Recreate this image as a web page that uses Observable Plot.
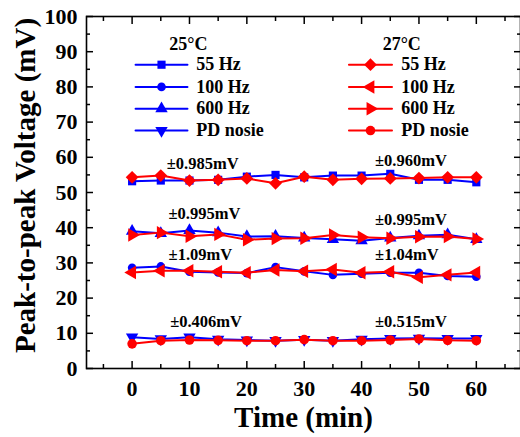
<!DOCTYPE html>
<html>
<head>
<meta charset="utf-8">
<script src="https://cdn.jsdelivr.net/npm/d3@7"></script>
<script src="https://cdn.jsdelivr.net/npm/@observablehq/plot@0.6"></script>
<style>
  html, body { margin: 0; padding: 0; background: #fff; }
  #chart svg { display: block; }
  #chart svg, #chart svg text { font-family: "Liberation Serif", "Times New Roman", serif !important; font-weight: bold; }
</style>
</head>
<body>
<div id="chart"></div>
<script>
// ---- data ----
const times = [0, 5, 10, 15, 20, 25, 30, 35, 40, 45, 50, 55, 60];

const blue55  = [53.2, 53.4, 53.4, 53.6, 54.5, 55.0, 54.3, 54.8, 54.8, 55.3, 53.6, 53.6, 52.9];
const blue100 = [28.6, 29.0, 27.5, 27.3, 27.1, 28.8, 27.6, 26.6, 26.9, 27.2, 27.2, 26.3, 26.1];
const blue600 = [39.0, 38.4, 39.2, 38.6, 37.5, 37.6, 37.1, 36.7, 36.3, 37.1, 37.7, 38.0, 36.7];
const bluePD  = [8.9, 8.4, 8.9, 8.3, 8.1, 7.9, 8.2, 7.9, 8.3, 8.5, 8.6, 8.5, 8.5];

const red55   = [54.3, 54.8, 53.4, 53.6, 54.0, 52.6, 54.5, 53.6, 53.9, 54.0, 54.1, 54.3, 54.3];
const red100  = [27.3, 27.8, 27.8, 27.5, 27.2, 28.0, 27.6, 28.1, 27.2, 27.5, 25.9, 26.6, 27.3];
const red600  = [37.9, 38.6, 37.6, 38.1, 36.6, 36.9, 37.0, 37.9, 37.3, 37.0, 37.4, 37.5, 36.8];
const redPD   = [7.0, 7.9, 8.1, 8.0, 7.9, 7.9, 8.2, 7.9, 7.9, 8.1, 8.4, 8.0, 7.9];

const seriesLabels = ["55 Hz", "100 Hz", "600 Hz", "PD nosie"];
const groupTitles = ["25°C", "27°C"];

const annotations = [
  {text: "±0.985mV", x: 12.3, y: 58.3},
  {text: "±0.960mV", x: 48.6, y: 59.0},
  {text: "±0.995mV", x: 12.6, y: 44.1},
  {text: "±0.995mV", x: 48.6, y: 42.3},
  {text: "±1.09mV",  x: 11.9, y: 32.4},
  {text: "±1.04mV",  x: 47.9, y: 32.4},
  {text: "±0.406mV", x: 12.9, y: 13.2},
  {text: "±0.515mV", x: 48.6, y: 13.2}
];

const xTicks = [0, 10, 20, 30, 40, 50, 60];
const xMinor = [-5, 5, 15, 25, 35, 45, 55, 65];
const yTicks = [0, 10, 20, 30, 40, 50, 60, 70, 80, 90, 100];
const yMinor = [5, 15, 25, 35, 45, 55, 65, 75, 85, 95];

// ---- custom symbols ----
const sqrt3 = Math.sqrt(3);
function poly(fn) {
  return {draw(ctx, size) {
    const y = -Math.sqrt(size / (sqrt3 * 3));
    const pts = fn(y);
    ctx.moveTo(pts[0][0], pts[0][1]);
    for (let i = 1; i < pts.length; i++) ctx.lineTo(pts[i][0], pts[i][1]);
    ctx.closePath();
  }};
}
const triUp = poly(y => [[0, 2 * y], [-sqrt3 * y, -y], [sqrt3 * y, -y]]);
const triDown = poly(y => [[0, -2 * y], [-sqrt3 * y, y], [sqrt3 * y, y]]);
const triLeft = poly(y => [[2 * y, 0], [-y, -sqrt3 * y], [-y, sqrt3 * y]]);
const triRight = poly(y => [[-2 * y, 0], [y, -sqrt3 * y], [y, sqrt3 * y]]);
const diamond = {draw(ctx, size) {
  const r = Math.sqrt(size) * 0.72;
  ctx.moveTo(0, -r); ctx.lineTo(r, 0); ctx.lineTo(0, r); ctx.lineTo(-r, 0); ctx.closePath();
}};

const BLUE = "#0000ff", RED = "#ff0000";
const groups = [
  {title: groupTitles[0], color: BLUE, series: [
    {values: blue55, symbol: "square", r: 4.6},
    {values: blue100, symbol: "circle", r: 4.3},
    {values: blue600, symbol: triUp, r: 4.6},
    {values: bluePD, symbol: triDown, r: 4.6}
  ]},
  {title: groupTitles[1], color: RED, series: [
    {values: red55, symbol: diamond, r: 5},
    {values: red100, symbol: triLeft, r: 5},
    {values: red600, symbol: triRight, r: 5},
    {values: redPD, symbol: "circle", r: 4.8}
  ]}
];

// ---- legend layout (data units of the chart) ----
const legendX = [{x0: 0.6, x1: 9.65, tx: 11.2, title: 9.8}, {x0: 37.8, x1: 45.3, tx: 46.9, title: 47.0}];
const legendRowY = [86.3, 80.0, 73.8, 67.6];
const legendTitleY = 92.2;

const font = "Liberation Serif";
const marks = [];

groups.forEach((g, gi) => {
  g.series.forEach((s, si) => {
    const rows = times.map((t, i) => ({t, v: s.values[i]}));
    marks.push(Plot.line(rows, {x: "t", y: "v", stroke: g.color, strokeWidth: 2}));
    marks.push(Plot.dot(rows, {x: "t", y: "v", symbol: s.symbol, r: s.r, fill: g.color, stroke: "none"}));
    // legend entry
    const L = legendX[gi], ly = legendRowY[si];
    marks.push(Plot.line([[L.x0, ly], [L.x1, ly]], {stroke: g.color, strokeWidth: 2}));
    marks.push(Plot.dot([[(L.x0 + L.x1) / 2, ly]], {symbol: s.symbol, r: s.r, fill: g.color, stroke: "none"}));
    marks.push(Plot.text([seriesLabels[si]], {x: L.tx, y: ly, text: d => d, textAnchor: "start", fontSize: 18, fontWeight: "bold", fontFamily: font, fill: "black"}));
  });
  marks.push(Plot.text([g.title], {x: legendX[gi].title, y: legendTitleY, text: d => d, fontSize: 18, fontWeight: "bold", fontFamily: font, fill: "black"}));
});

marks.push(Plot.text(annotations, {x: "x", y: "y", text: "text", fontSize: 16.5, fontWeight: "bold", fontFamily: font, fill: "black"}));

// axes: labels
marks.push(Plot.axisY({ticks: yTicks, tickSize: 0, tickPadding: 9, fontSize: 22, fontWeight: "bold", fontFamily: font, label: null, tickFormat: d => d}));
marks.push(Plot.axisX({ticks: xTicks, tickSize: 0, tickPadding: 12, fontSize: 22, fontWeight: "bold", fontFamily: font, label: null, tickFormat: d => d}));
// inward ticks
marks.push(Plot.axisY({ticks: yTicks, anchor: "left", tickSize: 7, dx: 7, fill: "none", strokeWidth: 1.5, label: null}));
marks.push(Plot.axisY({ticks: yMinor, anchor: "left", tickSize: 4, dx: 4, fill: "none", strokeWidth: 1.5, label: null}));
marks.push(Plot.axisY({ticks: yTicks, anchor: "right", tickSize: 7, dx: -7, fill: "none", strokeWidth: 1.5, label: null}));
marks.push(Plot.axisY({ticks: yMinor, anchor: "right", tickSize: 4, dx: -4, fill: "none", strokeWidth: 1.5, label: null}));
marks.push(Plot.axisX({ticks: xTicks, anchor: "bottom", tickSize: 7, dy: -7, fill: "none", strokeWidth: 1.5, label: null}));
marks.push(Plot.axisX({ticks: xMinor, anchor: "bottom", tickSize: 4, dy: -4, fill: "none", strokeWidth: 1.5, label: null}));
marks.push(Plot.axisX({ticks: xTicks, anchor: "top", tickSize: 7, dy: 7, fill: "none", strokeWidth: 1.5, label: null}));
marks.push(Plot.axisX({ticks: xMinor, anchor: "top", tickSize: 4, dy: 4, fill: "none", strokeWidth: 1.5, label: null}));
marks.push(Plot.frame({stroke: "black", strokeWidth: 1.6}));

// axis titles
marks.push(Plot.text(["Peak-to-peak Voltage (mV)"], {frameAnchor: "left", text: d => d, rotate: -90, textAnchor: "middle", lineAnchor: "middle", dx: -61, dy: -7, fontSize: 29, fontWeight: "bold", fontFamily: font, fill: "black"}));
marks.push(Plot.text(["Time (min)"], {frameAnchor: "bottom", text: d => d, textAnchor: "middle", lineAnchor: "top", dy: 38, fontSize: 29, fontWeight: "bold", fontFamily: font, fill: "black"}));

const chart = Plot.plot({
  width: 520,
  height: 437,
  marginLeft: 86,
  marginRight: 0,
  marginTop: 16,
  marginBottom: 69,
  style: {fontFamily: "'Liberation Serif', serif", fontWeight: "bold", color: "black", background: "white"},
  x: {domain: [-7.95, 67.7]},
  y: {domain: [0, 100]},
  marks
});
document.getElementById("chart").appendChild(chart);
</script>
</body>
</html>
